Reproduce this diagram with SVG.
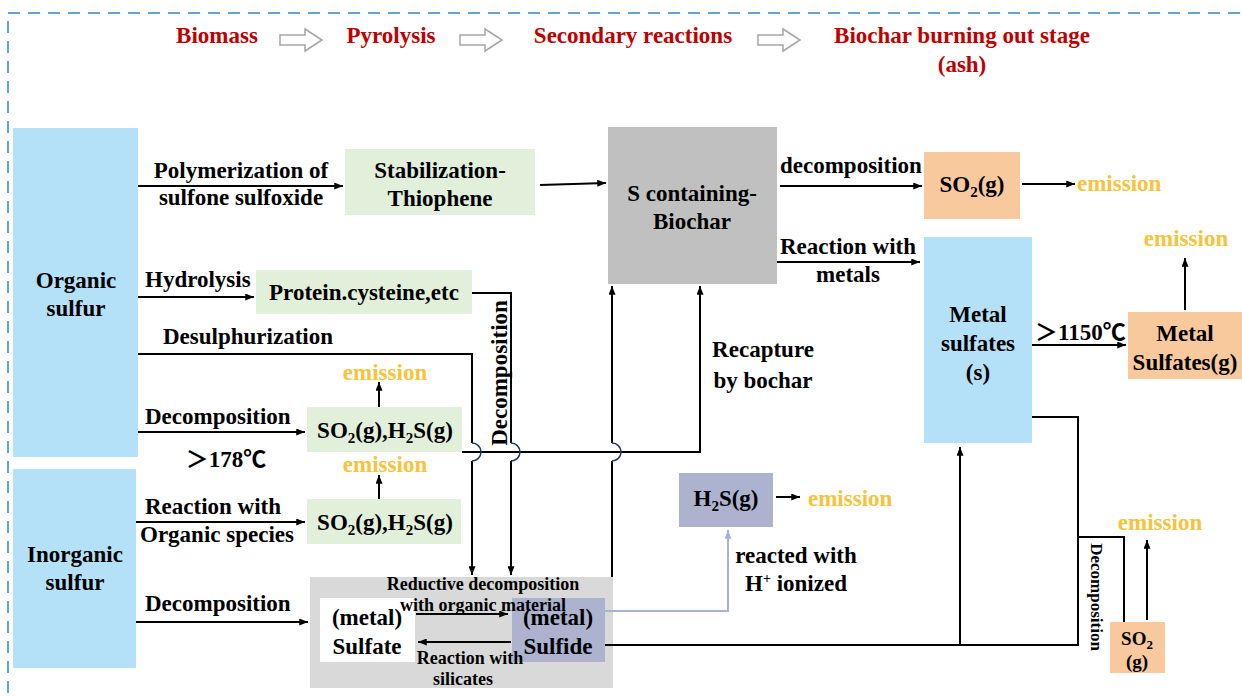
<svg xmlns="http://www.w3.org/2000/svg" width="1242" height="697" viewBox="0 0 1242 697">
<defs>
<marker id="ah" viewBox="0 0 10 8" refX="10" refY="4" markerWidth="9" markerHeight="7" markerUnits="userSpaceOnUse" orient="auto"><path d="M0,0 L10,4 L0,8 Z" fill="#000"/></marker>
<marker id="ahp" viewBox="0 0 10 8" refX="10" refY="4" markerWidth="9" markerHeight="7" markerUnits="userSpaceOnUse" orient="auto"><path d="M0,0 L10,4 L0,8 Z" fill="#a9b1d6"/></marker>
<path id="hollow" d="M0,6 H25 V0 L42,11 L25,22 V16 H0 Z"/>
</defs>
<style>
text{font-family:"Liberation Serif","Times New Roman","DejaVu Serif",serif;font-weight:bold;font-size:23px;fill:#000}
.cjk{font-family:"Liberation Serif","Noto Sans CJK SC",serif}
.hd{fill:#c00000}
.em{fill:#f7c33b}
.m{text-anchor:middle}
.s18{font-size:18px}
.s17{font-size:17px}
.s19{font-size:19px}
.ln{fill:none;stroke:#000;stroke-width:2}
.lnp{fill:none;stroke:#a9b1d6;stroke-width:2}
.jmp{fill:none;stroke:#203864;stroke-width:1.5}
.blue{fill:#b4e1f7}
.green{fill:#e2efda}
.gray{fill:#c0c0c0}
.org{fill:#f8c99c}
.pur{fill:#adb3cf}
</style>
<rect x="0" y="0" width="1242" height="697" fill="#fff"/>
<rect x="8" y="13" width="1260" height="720" fill="none" stroke="#5fa7d0" stroke-width="2" stroke-dasharray="12 8"/>
<g id="header">
<text class="hd m" x="217" y="43">Biomass</text>
<use href="#hollow" x="280" y="29" fill="#fff" stroke="#a6a6a6" stroke-width="1.5"/>
<text class="hd m" x="391" y="43">Pyrolysis</text>
<use href="#hollow" x="460" y="29" fill="#fff" stroke="#a6a6a6" stroke-width="1.5"/>
<text class="hd m" x="633" y="43">Secondary reactions</text>
<use href="#hollow" x="758" y="29" fill="#fff" stroke="#a6a6a6" stroke-width="1.5"/>
<text class="hd m" x="962" y="43">Biochar burning out stage</text>
<text class="hd m" x="962" y="72">(ash)</text>
</g>
<g id="organic-sulfur"><rect class="blue" x="13" y="128" width="125" height="329"/><text class="m" x="76" y="288">Organic</text><text class="m" x="76" y="316">sulfur</text></g>
<g id="inorganic-sulfur"><rect class="blue" x="13" y="469" width="123" height="199"/><text class="m" x="75" y="562">Inorganic</text><text class="m" x="75" y="590">sulfur</text></g>
<g id="thiophene"><rect class="green" x="345" y="149" width="190" height="66"/><text class="m" x="440" y="178">Stabilization-</text><text class="m" x="440" y="206">Thiophene</text></g>
<g id="protein"><rect class="green" x="256" y="270" width="216" height="44"/><text class="m" x="364" y="300">Protein.cysteine,etc</text></g>
<g id="gas1"><rect class="green" x="307" y="407" width="155" height="45"/><text class="m" x="385" y="438">SO<tspan font-size="15" dy="5">2</tspan><tspan dy="-5">(g),H</tspan><tspan font-size="15" dy="5">2</tspan><tspan dy="-5">S(g)</tspan></text></g>
<g id="gas2"><rect class="green" x="307" y="499" width="154" height="45"/><text class="m" x="385" y="530">SO<tspan font-size="15" dy="5">2</tspan><tspan dy="-5">(g),H</tspan><tspan font-size="15" dy="5">2</tspan><tspan dy="-5">S(g)</tspan></text></g>
<g id="biochar"><rect class="gray" x="608" y="127" width="169" height="157"/><text class="m" x="692" y="201">S containing-</text><text class="m" x="692" y="229">Biochar</text></g>
<g id="so2"><rect class="org" x="924" y="152" width="96" height="67"/><text class="m" x="972" y="192">SO<tspan font-size="15" dy="5">2</tspan><tspan dy="-5">(g)</tspan></text></g>
<g id="metal-sulfates-s"><rect class="blue" x="924" y="237" width="108" height="206"/><text class="m" x="978" y="322">Metal</text><text class="m" x="978" y="351">sulfates</text><text class="m" x="978" y="380">(s)</text></g>
<g id="metal-sulfates-g"><rect class="org" x="1128" y="312" width="120" height="67"/><text class="m" x="1185" y="341">Metal</text><text class="m" x="1185" y="370">Sulfates(g)</text></g>
<g id="h2s"><rect class="pur" x="679" y="473" width="94" height="54"/><text class="m" x="726" y="506">H<tspan font-size="15" dy="5">2</tspan><tspan dy="-5">S(g)</tspan></text></g>
<g id="so2-small"><rect class="org" x="1110" y="622" width="55" height="51"/><text class="m s19" x="1137" y="645">SO<tspan font-size="13" dy="4">2</tspan></text><text class="m s19" x="1137" y="668">(g)</text></g>
<g id="sulfate-sulfide">
<rect x="310" y="577" width="303" height="111" fill="#d9d9d9"/>
<rect x="320" y="598" width="95" height="64" fill="#fff"/>
<rect x="512" y="598" width="93" height="64" fill="#adb3cf"/>
<text class="m" x="367" y="625">(metal)</text><text class="m" x="367" y="654">Sulfate</text>
<text class="m" x="558" y="625">(metal)</text><text class="m" x="558" y="654">Sulfide</text>
<text class="m s18" x="483" y="590">Reductive decomposition</text>
<text class="m s18" x="483" y="611">with organic material</text>
<text class="m s18" x="470" y="664">Reaction with</text>
<text class="m s18" x="463" y="685">silicates</text>
<path class="ln" d="M416,614 H508" marker-end="url(#ah)"/>
<path class="ln" d="M511,642 H418" marker-end="url(#ah)"/>
</g>
<g id="connectors">
<path class="ln" d="M138,186 H343" marker-end="url(#ah)"/>
<path class="ln" d="M540,185 L606,183" marker-end="url(#ah)"/>
<path class="ln" d="M138,297 H254" marker-end="url(#ah)"/>
<path class="ln" d="M472,293 H511 V443 M511,461 V575" marker-end="url(#ah)"/>
<path class="ln" d="M138,354 H472 V443 M472,461 V575" marker-end="url(#ah)"/>
<path class="ln" d="M462,452 H700 V286" marker-end="url(#ah)"/>
<path class="ln" d="M612,577 V461 M612,443 V286" marker-end="url(#ah)"/>
<path class="jmp" d="M472,443 A9,9 0 0 1 472,461"/>
<path class="jmp" d="M511,443 A9,9 0 0 1 511,461"/>
<path class="jmp" d="M612,443 A9,9 0 0 1 612,461"/>
<path class="ln" d="M138,432 H305" marker-end="url(#ah)"/>
<path class="ln" d="M379,407 V382" marker-end="url(#ah)"/>
<path class="ln" d="M379,499 V475" marker-end="url(#ah)"/>
<path class="ln" d="M136,522 H305" marker-end="url(#ah)"/>
<path class="ln" d="M136,622 H308" marker-end="url(#ah)"/>
<path class="ln" d="M780,186 H922" marker-end="url(#ah)"/>
<path class="ln" d="M1022,184 H1075" stroke-width="3" marker-end="url(#ah)"/>
<path class="ln" d="M777,262 H920" marker-end="url(#ah)"/>
<path class="ln" d="M1032,345 H1126" marker-end="url(#ah)"/>
<path class="ln" d="M1185,310 V258" marker-end="url(#ah)"/>
<path class="ln" d="M1032,417 H1078 V645 H605"/>
<path class="ln" d="M960,645 V447" marker-end="url(#ah)"/>
<path class="ln" d="M1078,537 H1124 V622"/>
<path class="ln" d="M1147,620 V540" marker-end="url(#ah)"/>
<path class="lnp" d="M605,611 H728 V530" marker-end="url(#ahp)"/>
<path class="ln" d="M776,497 H800" marker-end="url(#ah)"/>
</g>
<g id="labels">
<text class="m" x="241" y="178">Polymerization of</text>
<text class="m" x="241" y="205">sulfone sulfoxide</text>
<text x="145" y="287">Hydrolysis</text>
<text x="163" y="344">Desulphurization</text>
<text x="145" y="424">Decomposition</text>
<text class="m cjk" x="226" y="467">＞178℃</text>
<text x="145" y="514">Reaction with</text>
<text x="140" y="542">Organic species</text>
<text x="145" y="611">Decomposition</text>
<text class="em m" x="385" y="380">emission</text>
<text class="em m" x="385" y="472">emission</text>
<text class="m" transform="translate(507,373) rotate(-90)">Decomposition</text>
<text class="m" x="763" y="357">Recapture</text>
<text class="m" x="763" y="388">by bochar</text>
<text x="780" y="173">decomposition</text>
<text class="em" x="1077" y="191">emission</text>
<text class="m" x="848" y="254">Reaction with</text>
<text class="m" x="848" y="282">metals</text>
<text class="cjk" x="1035" y="340">＞1150℃</text>
<text class="em m" x="1186" y="246">emission</text>
<text class="em" x="808" y="506">emission</text>
<text class="m" x="796" y="563">reacted with</text>
<text class="m" x="796" y="591">H<tspan font-size="14" dy="-8">+</tspan><tspan dy="8"> ionized</tspan></text>
<text class="em m" x="1160" y="530">emission</text>
<text class="m s17" transform="translate(1091,597) rotate(90)">Decomposition</text>
</g>
</svg>
